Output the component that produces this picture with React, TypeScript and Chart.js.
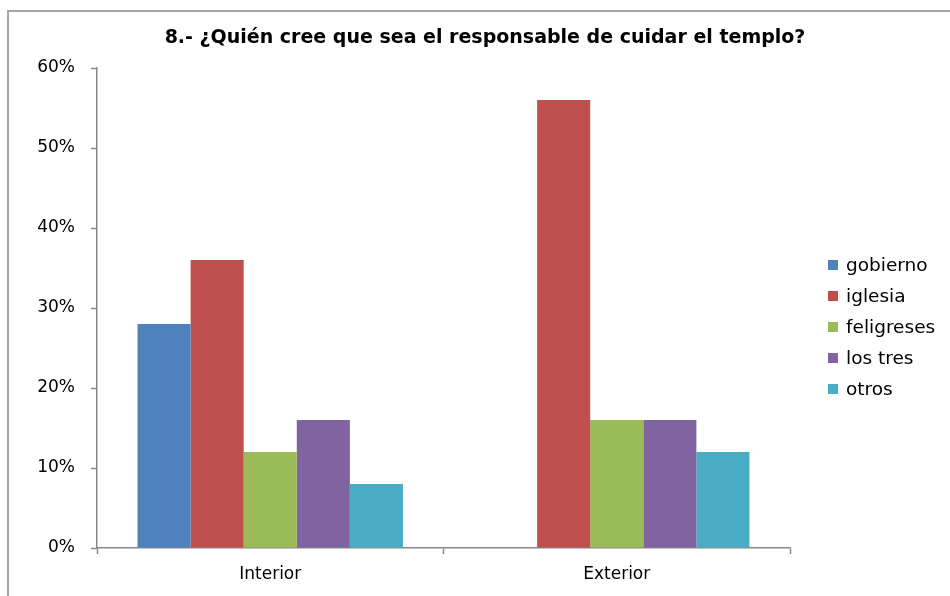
import React, { useEffect, useRef } from "react";
import { Chart, registerables } from "chart.js";

Chart.register(...registerables);

const categories = ["Interior", "Exterior"];
const seriesNames = ["gobierno", "iglesia", "feligreses", "los tres", "otros"];
const gobierno = [28, 0];
const iglesia = [36, 56];
const feligreses = [12, 16];
const losTres = [16, 16];
const otros = [8, 12];
const yTicks = [0, 10, 20, 30, 40, 50, 60];
const titleText = "8.- ¿Quién cree que sea el responsable de cuidar el templo?";

const colors = ["#4F81BD", "#C0504D", "#9BBB59", "#8064A2", "#4BACC6"];
const FONT = "'DejaVu Sans', sans-serif";

export default function App() {
  const ref = useRef<HTMLCanvasElement | null>(null);

  useEffect(() => {
    if (!ref.current) return;
    const values = [gobierno, iglesia, feligreses, losTres, otros];

    const framePlugin = {
      id: "frame",
      beforeDraw(chart: any) {
        const ctx = chart.ctx;
        ctx.save();
        ctx.fillStyle = "#ffffff";
        ctx.fillRect(0, 0, chart.width, chart.height);
        ctx.strokeStyle = "#a6a6a6";
        ctx.lineWidth = 2;
        ctx.beginPath();
        ctx.moveTo(8, chart.height + 2);
        ctx.lineTo(8, 11);
        ctx.lineTo(chart.width + 2, 11);
        ctx.stroke();
        ctx.restore();
      },
      afterDraw(chart: any) {
        const ctx = chart.ctx;
        ctx.save();
        // title
        ctx.font = `bold 19px ${FONT}`;
        ctx.textBaseline = "middle";
        ctx.textAlign = "center";
        ctx.fillStyle = "#000000";
        ctx.fillText(titleText, 485, 38);
        // legend
        ctx.font = `18.5px ${FONT}`;
        ctx.textAlign = "left";
        chart.data.datasets.forEach((ds: any, i: number) => {
          const y = 265 + i * 31;
          ctx.fillStyle = ds.backgroundColor;
          ctx.fillRect(828, y - 5, 10, 10);
          ctx.fillStyle = "#000000";
          ctx.fillText(ds.label, 846, y + 1);
        });
        ctx.restore();
      },
    };

    const chart = new Chart(ref.current, {
      type: "bar",
      data: {
        labels: categories,
        datasets: seriesNames.map((name, i) => ({
          label: name,
          data: values[i],
          backgroundColor: colors[i],
          borderWidth: 0,
          categoryPercentage: 0.766,
          barPercentage: 1,
        })),
      },
      options: {
        responsive: false,
        animation: false,
        layout: { padding: { left: 0, right: 160, top: 68, bottom: 0 } },
        plugins: {
          legend: { display: false },
          tooltip: { enabled: false },
          title: { display: false },
        },
        scales: {
          x: {
            afterFit(scale: any) {
              scale.height = 48;
            },
            grid: {
              offset: true,
              drawOnChartArea: false,
              drawTicks: true,
              tickLength: 6,
              tickColor: "#888888",
              tickWidth: 1.5,
            },
            border: { display: true, color: "#888888", width: 1.5 },
            ticks: {
              color: "#000000",
              font: { family: FONT, size: 17 },
              padding: 10,
            },
          },
          y: {
            min: 0,
            max: 60,
            afterFit(scale: any) {
              scale.width = 97;
            },
            afterBuildTicks(scale: any) {
              scale.ticks = yTicks.map((v) => ({ value: v }));
            },
            grid: {
              drawOnChartArea: false,
              drawTicks: true,
              tickLength: 6,
              tickColor: "#888888",
              tickWidth: 1.5,
            },
            border: { display: true, color: "#888888", width: 1.5 },
            ticks: {
              color: "#000000",
              font: { family: FONT, size: 17 },
              padding: 16,
              callback: (v: any) => `${v}%`,
            },
          },
        },
      },
      plugins: [framePlugin],
    } as any);

    return () => chart.destroy();
  }, []);

  return (
    <div style={{ position: "fixed", left: 0, top: 0, width: 950, height: 596, background: "#fff" }}>
      <canvas ref={ref} width={950} height={596} style={{ display: "block" }} />
    </div>
  );
}
